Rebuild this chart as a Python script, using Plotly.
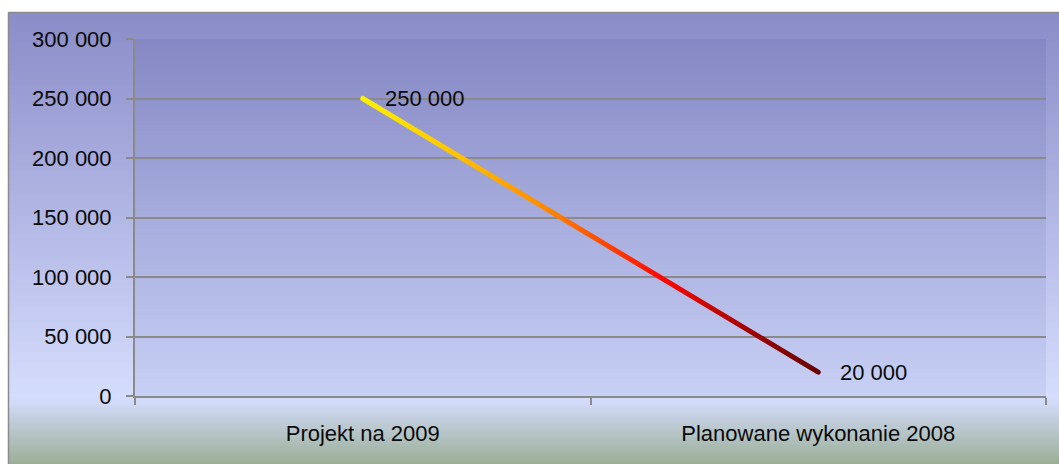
import json
import plotly.graph_objects as go

# ---- data ----
categories = ["Projekt na 2009", "Planowane wykonanie 2008"]
values = [250000, 20000]
y_tick_values = [0, 50000, 100000, 150000, 200000, 250000, 300000]
value_labels = [f"{v:,}".replace(",", " ") for v in values]

# ---- geometry / style ----
W, H = 1059, 464
L, R, T, B = 135, 13, 39, 68
pw, ph = W - L - R, H - T - B
FONT = "Liberation Sans, Arial, sans-serif"
FS = 22
TXT = "#0a0a0a"
GRID = "#8a8a8a"


def px_x(px):
    return (px - L) / pw


def px_y(py):
    return (H - B - py) / ph


def color_at(stops, y):
    if y <= stops[0][0]:
        c = stops[0][1]
    elif y >= stops[-1][0]:
        c = stops[-1][1]
    else:
        for (y0, c0), (y1, c1) in zip(stops, stops[1:]):
            if y0 <= y <= y1:
                t = (y - y0) / (y1 - y0) if y1 > y0 else 0
                c = tuple(a + (b - a) * t for a, b in zip(c0, c1))
                break
    return "rgb(%d,%d,%d)" % tuple(round(v) for v in c)


outer_stops = [(12, (138, 140, 200)), (396, (213, 221, 253)),
               (404, (208, 217, 246)), (464, (154, 174, 150))]
plot_stops = [(39, (133, 136, 196)), (396, (200, 208, 245))]

shapes = []
step = 2
for y0 in range(12, H, step):
    y1 = min(y0 + step + 1, H)
    shapes.append(dict(type="rect", xref="paper", yref="paper",
                       x0=px_x(8), x1=px_x(W), y0=px_y(y1), y1=px_y(y0),
                       fillcolor=color_at(outer_stops, y0 + step / 2),
                       line=dict(width=0), layer="below"))
for y0 in range(T, H - B, step):
    y1 = min(y0 + step + 1, H - B)
    shapes.append(dict(type="rect", xref="paper", yref="paper",
                       x0=0, x1=1, y0=px_y(y1), y1=px_y(y0),
                       fillcolor=color_at(plot_stops, y0 + step / 2),
                       line=dict(width=0), layer="below"))
# outer frame (top and left edges)
shapes.append(dict(type="line", xref="paper", yref="paper",
                   x0=px_x(8.5), x1=px_x(8.5), y0=px_y(H), y1=px_y(12.5),
                   line=dict(color="#8c8c8c", width=1.5), layer="below"))
shapes.append(dict(type="line", xref="paper", yref="paper",
                   x0=px_x(8.5), x1=px_x(W), y0=px_y(12.5), y1=px_y(12.5),
                   line=dict(color="#8c8c8c", width=1.5), layer="below"))

fig = go.Figure()
fig.add_trace(go.Scatter(x=categories, y=values, mode="lines",
                         line=dict(color="#ff8800", width=5),
                         hoverinfo="skip", showlegend=False))

annotations = [dict(x=c, y=v, xref="x", yref="y", text=t, showarrow=False,
                    xanchor="left", yanchor="middle", xshift=20,
                    font=dict(family=FONT, size=FS, color=TXT))
               for c, v, t in zip(categories, values, value_labels)]

fig.update_layout(
    width=W, height=H,
    margin=dict(l=L, r=R, t=T, b=B, pad=0),
    paper_bgcolor="white",
    plot_bgcolor="rgba(0,0,0,0)",
    separators=". ",
    font=dict(family=FONT, size=FS, color=TXT),
    shapes=shapes,
    annotations=annotations,
    showlegend=False,
    xaxis=dict(type="category", range=[-0.5, 1.5], showgrid=False,
               showline=True, linecolor=GRID, linewidth=2,
               ticks="outside", tickson="boundaries", ticklen=7,
               tickcolor=GRID, tickwidth=2, ticklabelstandoff=17,
               tickfont=dict(family=FONT, size=FS, color=TXT),
               fixedrange=True),
    yaxis=dict(range=[0, 300000], tickvals=y_tick_values, tickformat=",d",
               showgrid=True, gridcolor=GRID, gridwidth=2, zeroline=False,
               showline=True, linecolor=GRID, linewidth=2,
               ticks="outside", ticklen=7, tickcolor=GRID, tickwidth=2,
               ticklabelstandoff=10,
               tickfont=dict(family=FONT, size=FS, color=TXT),
               fixedrange=True),
)

grad_stops = [[0, "#fff200"], [0.2, "#ffc400"], [0.4, "#ff8a00"],
              [0.65, "#ff0a00"], [0.85, "#a00000"], [1, "#660000"]]

post = """
document.body.style.margin = '0';
document.body.style.padding = '0';
var gd = document.getElementById('{plot_id}');
var ns = 'http://www.w3.org/2000/svg';
var svg = gd.querySelector('svg.main-svg');
var defs = svg.querySelector('defs');
if (!defs) { defs = document.createElementNS(ns, 'defs'); svg.insertBefore(defs, svg.firstChild); }
var lg = document.createElementNS(ns, 'linearGradient');
lg.setAttribute('id', 'lineGrad');
lg.setAttribute('x1', '0'); lg.setAttribute('y1', '0');
lg.setAttribute('x2', '1'); lg.setAttribute('y2', '0');
var stops = STOPS;
stops.forEach(function(s) {
  var st = document.createElementNS(ns, 'stop');
  st.setAttribute('offset', s[0]);
  st.setAttribute('stop-color', s[1]);
  lg.appendChild(st);
});
defs.appendChild(lg);
gd.querySelectorAll('.scatterlayer path.js-line').forEach(function(p) {
  p.style.stroke = 'url(#lineGrad)';
  p.style.strokeLinecap = 'round';
});
""".replace("STOPS", json.dumps(grad_stops))

fig.write_html("out.html", post_script=post, config={"displayModeBar": False})
